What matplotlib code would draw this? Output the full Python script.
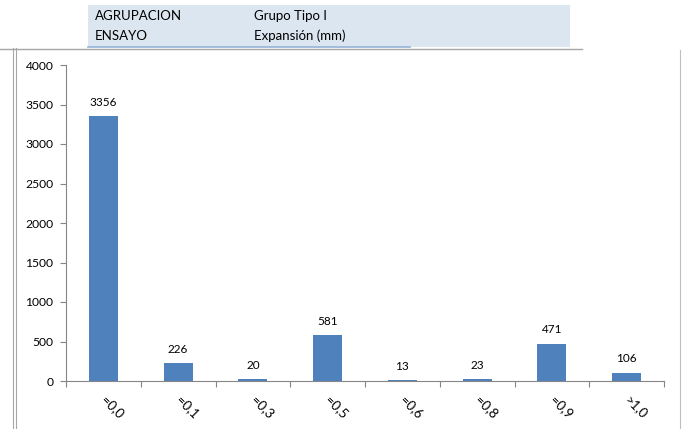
import numpy as np
import matplotlib.pyplot as plt
from matplotlib.lines import Line2D
from matplotlib.patches import Rectangle

plt.rcParams['font.family'] = ['Lato', 'DejaVu Sans']

# Datos del grafico
categorias = ['=0,0', '=0,1', '=0,3', '=0,5', '=0,6', '=0,8', '=0,9', '>1,0']
valores = [3356, 226, 20, 581, 13, 23, 471, 106]
encabezado_izq = ['AGRUPACION', 'ENSAYO']
encabezado_der = ['Grupo Tipo I', 'Expansión (mm)']

W, H = 686, 429
fig = plt.figure(figsize=(W / 100, H / 100), dpi=100)

# Encabezado tipo hoja de calculo
fig.patches.append(Rectangle((88 / W, 1 - 47 / H), (570 - 88) / W, 42 / H,
                             transform=fig.transFigure, facecolor='#dce6f1', edgecolor='none'))
fig.add_artist(Line2D([88 / W, 410 / W], [1 - 46.5 / H] * 2, transform=fig.transFigure,
                      color='#95b3d7', lw=1.2))
fig.add_artist(Line2D([0, 582 / W], [1 - 48.5 / H] * 2, transform=fig.transFigure,
                      color='#a6a6a6', lw=1))
for i in range(2):
    y = 1 - (16 + 20 * i) / H
    fig.text(95 / W, y, encabezado_izq[i], fontsize=9.5, va='center', ha='left', color='#000000')
    fig.text(254 / W, y, encabezado_der[i], fontsize=9.5, va='center', ha='left', color='#000000')

# Borde del area del grafico
for x in [13, 16]:
    fig.add_artist(Line2D([x / W] * 2, [0, 1 - 48 / H], transform=fig.transFigure,
                          color='#a6a6a6', lw=0.8))
fig.add_artist(Line2D([680 / W] * 2, [0, 1 - 50 / H], transform=fig.transFigure,
                      color='#bfbfbf', lw=0.8))

ax = fig.add_axes([66 / W, 1 - 381 / H, (664 - 66) / W, (381 - 65) / H])
x = np.arange(len(categorias))
ax.bar(x, valores, width=0.39, color='#4f81bd')
for xi, v in zip(x, valores):
    ax.annotate(str(v), (xi, v), xytext=(0, 6), textcoords='offset points',
                ha='center', va='bottom', fontsize=8.5)

ax.set_xlim(-0.5, len(categorias) - 0.5)
ax.set_ylim(0, 4000)
ax.set_yticks(np.arange(0, 4001, 500))
ax.tick_params(axis='y', labelsize=8.7, length=4, color='#868686', width=0.8, pad=5)

ax.set_xticks(np.arange(-0.5, len(categorias), 1))
ax.set_xticklabels([])
ax.tick_params(axis='x', length=4, color='#868686', width=0.8)
ax.set_xticks(x, minor=True)
ax.set_xticklabels(categorias, minor=True, rotation=-45, ha='left', va='center',
                   rotation_mode='anchor', fontsize=9.5)
ax.tick_params(axis='x', which='minor', length=0, pad=12)

for s in ['top', 'right']:
    ax.spines[s].set_visible(False)
for s in ['left', 'bottom']:
    ax.spines[s].set_color('#868686')
    ax.spines[s].set_linewidth(0.8)

fig.savefig('out.png', dpi=100)
